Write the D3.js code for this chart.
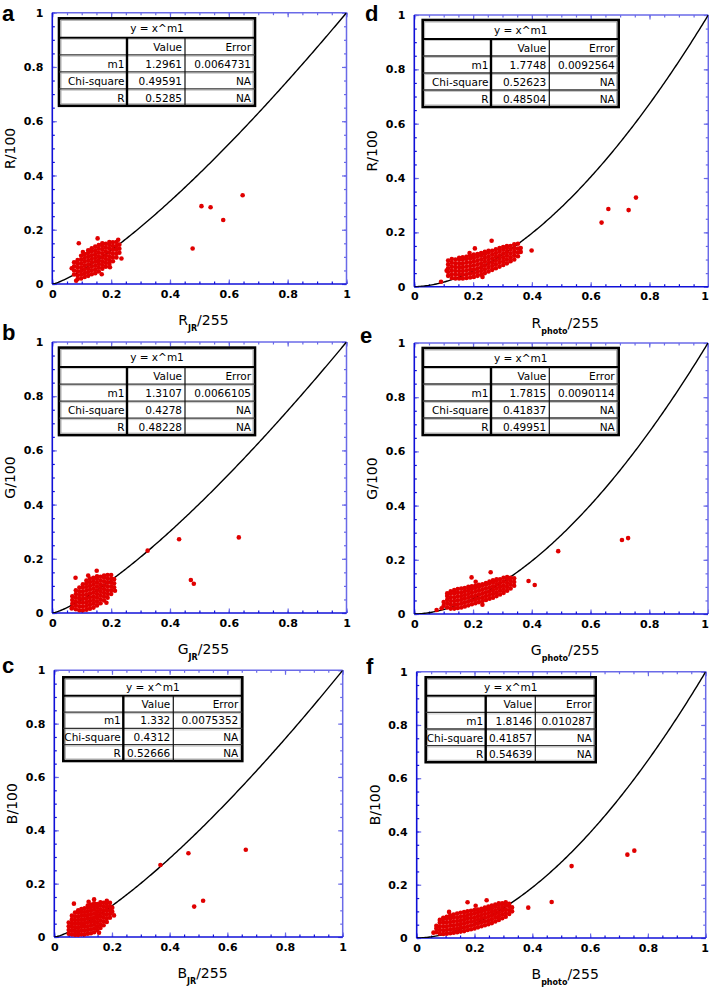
<!DOCTYPE html>
<html><head><meta charset="utf-8">
<script src="https://cdn.jsdelivr.net/npm/d3@7"></script>
<style>body{margin:0;background:#fff}svg{display:block}</style>
</head><body>
<svg id="chart" width="709" height="989"></svg>
<script>
// ---------------- data ----------------
const panelIds = ["a","b","c","d","e","f"];
const yTitles = ["R/100","G/100","B/100","R/100","G/100","B/100"];
const xMain = ["R","G","B","R","G","B"];
const xSub = ["JR","JR","JR","photo","photo","photo"];
const tickValues = [0,0.2,0.4,0.6,0.8,1];
const tickLabels = ["0","0.2","0.4","0.6","0.8","1"];
const fitTitle = "y = x^m1";
const tableHeader = ["","Value","Error"];
const rowLabels = ["m1","Chi-square","R"];
const m1 = [1.2961,1.3107,1.332,1.7748,1.7815,1.8146];
const valueText = [
  ["1.2961","0.49591","0.5285"],
  ["1.3107","0.4278","0.48228"],
  ["1.332","0.4312","0.52666"],
  ["1.7748","0.52623","0.48504"],
  ["1.7815","0.41837","0.49951"],
  ["1.8146","0.41857","0.54639"]
];
const errorText = [
  ["0.0064731","NA","NA"],
  ["0.0066105","NA","NA"],
  ["0.0075352","NA","NA"],
  ["0.0092564","NA","NA"],
  ["0.0090114","NA","NA"],
  ["0.010287","NA","NA"]
];
// dense clusters: [x, [y values]]
const clusterA = [
  [0.074,[0.035,0.05,0.065,0.08]],
  [0.086,[0.018,0.032,0.046,0.06,0.074,0.088]],
  [0.098,[0.02,0.034,0.048,0.062,0.076,0.09,0.104]],
  [0.110,[0.026,0.04,0.054,0.068,0.082,0.096,0.11]],
  [0.122,[0.03,0.044,0.058,0.072,0.086,0.1,0.114,0.124]],
  [0.134,[0.036,0.05,0.064,0.078,0.092,0.106,0.12,0.132]],
  [0.146,[0.04,0.054,0.068,0.082,0.096,0.11,0.124,0.138]],
  [0.158,[0.046,0.06,0.074,0.088,0.102,0.116,0.13,0.144]],
  [0.170,[0.056,0.07,0.084,0.098,0.112,0.126,0.14,0.15]],
  [0.182,[0.064,0.078,0.092,0.106,0.12,0.134,0.148]],
  [0.194,[0.074,0.088,0.102,0.116,0.13,0.144,0.155]],
  [0.206,[0.084,0.098,0.112,0.126,0.14,0.154]],
  [0.218,[0.098,0.112,0.126,0.14,0.155]],
  [0.228,[0.115,0.13,0.145]]
];
const pointsA = [[0.09,0.15],[0.154,0.168],[0.235,0.094],[0.168,0.036],[0.224,0.163],
  [0.081,0.012],[0.104,0.118],[0.196,0.062],[0.066,0.058],
  [0.477,0.131],[0.507,0.287],[0.538,0.283],[0.581,0.236],[0.647,0.327]];
const clusterB = [
  [0.068,[0.02,0.034,0.048,0.062]],
  [0.080,[0.014,0.028,0.042,0.056,0.07,0.084]],
  [0.092,[0.01,0.024,0.038,0.052,0.066,0.08,0.094]],
  [0.104,[0.01,0.024,0.038,0.052,0.066,0.08,0.094,0.106]],
  [0.116,[0.012,0.026,0.04,0.054,0.068,0.082,0.096,0.11,0.12]],
  [0.128,[0.016,0.03,0.044,0.058,0.072,0.086,0.1,0.114,0.127]],
  [0.140,[0.02,0.034,0.048,0.062,0.076,0.09,0.104,0.118,0.13]],
  [0.152,[0.028,0.042,0.056,0.07,0.084,0.098,0.112,0.126,0.135]],
  [0.164,[0.036,0.05,0.064,0.078,0.092,0.106,0.12,0.134]],
  [0.176,[0.046,0.06,0.074,0.088,0.102,0.116,0.13,0.138]],
  [0.188,[0.056,0.07,0.084,0.098,0.112,0.126,0.14]],
  [0.200,[0.07,0.084,0.098,0.112,0.126,0.14]],
  [0.210,[0.095,0.11,0.125]]
];
const pointsB = [[0.079,0.13],[0.151,0.156],[0.213,0.082],[0.066,0.017],[0.122,0.138],[0.184,0.038],
  [0.324,0.23],[0.431,0.272],[0.471,0.122],[0.481,0.108],[0.634,0.279]];
const clusterC = [
  [0.050,[0.012,0.026,0.04,0.054]],
  [0.061,[0.01,0.024,0.038,0.052,0.066,0.08]],
  [0.072,[0.008,0.022,0.036,0.05,0.064,0.078,0.092]],
  [0.083,[0.008,0.022,0.036,0.05,0.064,0.078,0.092,0.1]],
  [0.094,[0.01,0.024,0.038,0.052,0.066,0.08,0.094,0.105]],
  [0.105,[0.01,0.024,0.038,0.052,0.066,0.08,0.094,0.108]],
  [0.116,[0.012,0.026,0.04,0.054,0.068,0.082,0.096,0.11,0.118]],
  [0.127,[0.014,0.028,0.042,0.056,0.07,0.084,0.098,0.112,0.122]],
  [0.138,[0.018,0.032,0.046,0.06,0.074,0.088,0.102,0.116,0.126]],
  [0.149,[0.026,0.04,0.054,0.068,0.082,0.096,0.11,0.124]],
  [0.160,[0.034,0.048,0.062,0.076,0.09,0.104,0.118,0.13]],
  [0.171,[0.044,0.058,0.072,0.086,0.1,0.114,0.128]],
  [0.182,[0.056,0.07,0.084,0.098,0.112,0.126,0.136]],
  [0.193,[0.072,0.086,0.1,0.114,0.128]],
  [0.201,[0.095,0.11]]
];
const pointsC = [[0.068,0.125],[0.138,0.141],[0.207,0.081],[0.119,0.132],[0.155,0.016],
  [0.368,0.27],[0.465,0.314],[0.485,0.114],[0.516,0.136],[0.664,0.327]];
const clusterD = [
  [0.115,[0.04,0.054,0.068,0.082,0.096]],
  [0.1275,[0.032,0.046,0.06,0.074,0.088,0.102]],
  [0.140,[0.03,0.044,0.058,0.072,0.086,0.1]],
  [0.1525,[0.03,0.044,0.058,0.072,0.086,0.1,0.106]],
  [0.165,[0.03,0.044,0.058,0.072,0.086,0.1,0.108]],
  [0.1775,[0.032,0.046,0.06,0.074,0.088,0.102,0.11]],
  [0.190,[0.034,0.048,0.062,0.076,0.09,0.104,0.114]],
  [0.2025,[0.036,0.05,0.064,0.078,0.092,0.106,0.118]],
  [0.215,[0.04,0.054,0.068,0.082,0.096,0.11,0.12]],
  [0.2275,[0.044,0.058,0.072,0.086,0.1,0.114,0.124]],
  [0.240,[0.05,0.064,0.078,0.092,0.106,0.12,0.128]],
  [0.2525,[0.056,0.07,0.084,0.098,0.112,0.126,0.132]],
  [0.265,[0.062,0.076,0.09,0.104,0.118,0.132]],
  [0.2775,[0.068,0.082,0.096,0.11,0.124,0.138]],
  [0.290,[0.074,0.088,0.102,0.116,0.13,0.142]],
  [0.3025,[0.08,0.094,0.108,0.122,0.136,0.146]],
  [0.315,[0.086,0.1,0.114,0.128,0.142,0.15]],
  [0.3275,[0.094,0.108,0.122,0.136,0.15]],
  [0.340,[0.1,0.114,0.128,0.142,0.156]],
  [0.3525,[0.112,0.126,0.14,0.158]],
  [0.362,[0.128,0.142]]
];
const pointsD = [[0.091,0.018],[0.11,0.059],[0.206,0.141],[0.263,0.169],[0.232,0.036],[0.188,0.124],
  [0.399,0.133],[0.637,0.236],[0.66,0.286],[0.729,0.282],[0.754,0.328]];
const clusterE = [
  [0.100,[0.03,0.044]],
  [0.112,[0.024,0.038,0.052,0.066,0.076]],
  [0.124,[0.02,0.034,0.048,0.062,0.076,0.084]],
  [0.136,[0.02,0.034,0.048,0.062,0.076,0.088]],
  [0.148,[0.022,0.036,0.05,0.064,0.078,0.092]],
  [0.160,[0.024,0.038,0.052,0.066,0.08,0.094]],
  [0.172,[0.028,0.042,0.056,0.07,0.084,0.096]],
  [0.184,[0.032,0.046,0.06,0.074,0.088,0.1]],
  [0.196,[0.036,0.05,0.064,0.078,0.092,0.102]],
  [0.208,[0.04,0.054,0.068,0.082,0.096,0.104]],
  [0.220,[0.044,0.058,0.072,0.086,0.1,0.108]],
  [0.232,[0.048,0.062,0.076,0.09,0.104,0.11]],
  [0.244,[0.052,0.066,0.08,0.094,0.108,0.114]],
  [0.256,[0.056,0.07,0.084,0.098,0.112,0.12]],
  [0.268,[0.06,0.074,0.088,0.102,0.116,0.124]],
  [0.280,[0.066,0.08,0.094,0.108,0.122,0.128]],
  [0.292,[0.072,0.086,0.1,0.114,0.128]],
  [0.304,[0.078,0.092,0.106,0.12,0.134]],
  [0.316,[0.086,0.1,0.114,0.128,0.136]],
  [0.328,[0.094,0.108,0.122,0.134]],
  [0.340,[0.104,0.118,0.132]]
];
const pointsE = [[0.076,0.015],[0.093,0.021],[0.195,0.135],[0.26,0.154],[0.209,0.119],[0.232,0.034],
  [0.389,0.122],[0.41,0.107],[0.49,0.232],[0.707,0.273],[0.728,0.28]];
const clusterF = [
  [0.068,[0.022,0.036,0.046]],
  [0.080,[0.016,0.03,0.044,0.058,0.068]],
  [0.092,[0.015,0.029,0.043,0.057,0.071,0.076]],
  [0.104,[0.016,0.03,0.044,0.058,0.072,0.08]],
  [0.116,[0.018,0.032,0.046,0.06,0.074,0.085]],
  [0.128,[0.02,0.034,0.048,0.062,0.076,0.088]],
  [0.140,[0.022,0.036,0.05,0.064,0.078,0.092]],
  [0.152,[0.024,0.038,0.052,0.066,0.08,0.095]],
  [0.164,[0.026,0.04,0.054,0.068,0.082,0.097]],
  [0.176,[0.03,0.044,0.058,0.072,0.086,0.1]],
  [0.188,[0.033,0.047,0.061,0.075,0.089,0.102]],
  [0.200,[0.036,0.05,0.064,0.078,0.092,0.105]],
  [0.212,[0.04,0.054,0.068,0.082,0.096,0.107]],
  [0.224,[0.044,0.058,0.072,0.086,0.1,0.11]],
  [0.236,[0.048,0.062,0.076,0.09,0.104,0.114]],
  [0.248,[0.052,0.066,0.08,0.094,0.108,0.118]],
  [0.260,[0.056,0.07,0.084,0.098,0.112,0.122]],
  [0.272,[0.062,0.076,0.09,0.104,0.118,0.126]],
  [0.284,[0.068,0.082,0.096,0.11,0.124,0.13]],
  [0.296,[0.074,0.088,0.102,0.116,0.13]],
  [0.308,[0.08,0.094,0.108,0.122,0.134]],
  [0.320,[0.09,0.104,0.118,0.128]],
  [0.330,[0.1,0.115]]
];
const pointsF = [[0.058,0.02],[0.176,0.134],[0.242,0.142],[0.204,0.121],[0.112,0.098],
  [0.386,0.114],[0.467,0.135],[0.536,0.27],[0.729,0.313],[0.753,0.328]];
const clusters = [clusterA,clusterB,clusterC,clusterD,clusterE,clusterF];
const extraPoints = [pointsA,pointsB,pointsC,pointsD,pointsE,pointsF];

// ---------------- layout ----------------
const layout = [
  {l:52.3,r:346.5,t:12.7,b:284, lx:2,ly:21,  tab:{x:6.7,y:5.6,w:196,h1:19.5,rh:17,c1:68,c2:126}},
  {l:52.3,r:346.5,t:342,b:613,  lx:2,ly:340, tab:{x:6.7,y:5.6,w:196,h1:19.5,rh:17,c1:68,c2:126}},
  {l:54.3,r:342.7,t:670.3,b:937,lx:2,ly:673, tab:{x:9,y:7,w:179,h1:18.5,rh:16.3,c1:60,c2:110}},
  {l:414.3,r:708.3,t:15,b:286.7,lx:365,ly:21,  tab:{x:8.4,y:5,w:196,h1:19,rh:17,c1:68.3,c2:126.6}},
  {l:414.3,r:708,t:343,b:614,   lx:360,ly:343, tab:{x:8.4,y:5,w:196,h1:19,rh:17,c1:68.3,c2:126.6}},
  {l:416.7,r:705.7,t:671.7,b:938,lx:366,ly:674,tab:{x:9,y:5.6,w:170,h1:18.5,rh:16.6,c1:60,c2:109.6}}
];
const FONT = "DejaVu Sans, Verdana, sans-serif";
const darkBlue = "#1010d8", lightBlue = "#6a6ae8", dotColor = "#e00000";
const PAGE_W = 709;

const svg = d3.select("#chart");
const minorTicks = d3.range(0, 1.0001, 0.05);

panelIds.forEach((id, i) => {
  const L = layout[i];
  const x = d3.scaleLinear().domain([0,1]).range([L.l, L.r]);
  const y = d3.scaleLinear().domain([0,1]).range([L.b, L.t]);
  const g = svg.append("g");

  const clipId = "clip" + id;
  svg.append("clipPath").attr("id", clipId).append("rect")
    .attr("x", L.l).attr("y", L.t).attr("width", L.r - L.l).attr("height", L.b - L.t);

  g.append("line").attr("x1",L.l).attr("x2",L.r).attr("y1",L.t).attr("y2",L.t)
    .attr("stroke",lightBlue).attr("stroke-width",1.5);
  g.append("line").attr("x1",L.r).attr("x2",L.r).attr("y1",L.t).attr("y2",L.b)
    .attr("stroke",lightBlue).attr("stroke-width",1.5);

  const mk = (axis, tr, col) => {
    const a = g.append("g").attr("transform", tr).call(axis);
    a.select(".domain").remove();
    a.selectAll(".tick line").attr("stroke", col).attr("stroke-width", 1.2);
    return a;
  };
  mk(d3.axisBottom(x).tickValues(minorTicks).tickSize(-2.5).tickFormat(""), `translate(0,${L.b})`, darkBlue);
  mk(d3.axisTop(x).tickValues(minorTicks).tickSize(-2.5).tickFormat(""), `translate(0,${L.t})`, lightBlue);
  mk(d3.axisLeft(y).tickValues(minorTicks).tickSize(-2.5).tickFormat(""), `translate(${L.l},0)`, darkBlue);
  mk(d3.axisRight(y).tickValues(minorTicks).tickSize(-2.5).tickFormat(""), `translate(${L.r},0)`, lightBlue);
  mk(d3.axisTop(x).tickValues(tickValues).tickSize(-4.5).tickFormat(""), `translate(0,${L.t})`, lightBlue);
  mk(d3.axisRight(y).tickValues(tickValues).tickSize(-4.5).tickFormat(""), `translate(${L.r},0)`, lightBlue);

  const xa = mk(d3.axisBottom(x).tickValues(tickValues).tickSize(-4.5).tickPadding(6)
      .tickFormat((d,k)=>tickLabels[k]), `translate(0,${L.b})`, lightBlue);
  const ya = mk(d3.axisLeft(y).tickValues(tickValues).tickSize(-4.5).tickPadding(9)
      .tickFormat((d,k)=>tickLabels[k]), `translate(${L.l},0)`, lightBlue);
  [xa, ya].forEach(a => a.selectAll(".tick text")
      .attr("fill","#000").style("font-family",FONT).style("font-size","11px").style("font-weight","bold"));
  xa.selectAll(".tick text").each(function(d) {
    if (x(d) + 4 > PAGE_W) d3.select(this).attr("text-anchor","end").attr("x", PAGE_W - x(d) - 0.5);
  });

  g.append("line").attr("x1",L.l).attr("x2",L.r).attr("y1",L.b).attr("y2",L.b)
    .attr("stroke",darkBlue).attr("stroke-width",1.6);
  g.append("line").attr("x1",L.l).attr("x2",L.l).attr("y1",L.t).attr("y2",L.b)
    .attr("stroke",darkBlue).attr("stroke-width",1.6);

  // fitted curve y = x^m1
  const curve = d3.range(0, 1.0001, 0.005).map(v => [v, Math.pow(v, m1[i])]);
  g.append("path").datum(curve).attr("clip-path", `url(#${clipId})`)
    .attr("fill","none").attr("stroke","#000").attr("stroke-width",1.4)
    .attr("d", d3.line().x(d => x(d[0])).y(d => y(d[1])));

  // scatter points
  const pts = clusters[i].flatMap(([cx, ys]) => ys.map(cy => [cx, cy])).concat(extraPoints[i]);
  g.append("g").selectAll("circle").data(pts).join("circle")
    .attr("cx", d => x(d[0])).attr("cy", d => y(d[1])).attr("r", 2.3).attr("fill", dotColor);

  // table
  const T = L.tab;
  const tx = L.l + T.x, ty = L.t + T.y, th = T.h1 + 4 * T.rh;
  const tg = g.append("g");
  tg.append("rect").attr("x",tx).attr("y",ty).attr("width",T.w).attr("height",th)
    .attr("fill","#fff").attr("stroke","#000").attr("stroke-width",2.6);
  tg.append("rect").attr("x",tx+2).attr("y",ty+2).attr("width",T.w-4).attr("height",th-4)
    .attr("fill","none").attr("stroke","#9a9a9a").attr("stroke-width",0.8);
  for (let k = 0; k < 4; k++) {
    const yy = ty + T.h1 + k * T.rh;
    tg.append("line").attr("x1",tx).attr("x2",tx+T.w).attr("y1",yy).attr("y2",yy)
      .attr("stroke", k === 0 ? "#000" : "#333").attr("stroke-width", k === 0 ? 2 : 1.3);
    tg.append("line").attr("x1",tx+2).attr("x2",tx+T.w-2).attr("y1",yy+1.5).attr("y2",yy+1.5)
      .attr("stroke","#b0b0b0").attr("stroke-width",0.7);
  }
  tg.append("line").attr("x1",tx+T.c1).attr("x2",tx+T.c1).attr("y1",ty+T.h1).attr("y2",ty+th)
    .attr("stroke","#000").attr("stroke-width",2.4);
  tg.append("line").attr("x1",tx+T.c2).attr("x2",tx+T.c2).attr("y1",ty+T.h1).attr("y2",ty+th)
    .attr("stroke","#111").attr("stroke-width",1.2);
  const txt = (s, xx, yy, anchor) => tg.append("text").attr("x",xx).attr("y",yy)
    .attr("text-anchor",anchor).style("font-family",FONT).style("font-size","10.5px")
    .attr("fill","#000").text(s);
  txt(fitTitle, tx + T.w/2, ty + T.h1/2 + 4, "middle");
  const rowY = k => ty + T.h1 + k * T.rh + T.rh/2 + 4.2;
  txt(tableHeader[1], tx + T.c2 - 3, rowY(0), "end");
  txt(tableHeader[2], tx + T.w - 4, rowY(0), "end");
  rowLabels.forEach((lab, k) => {
    txt(lab, tx + T.c1 - 2.5, rowY(k+1), "end");
    txt(valueText[i][k], tx + T.c2 - 3, rowY(k+1), "end");
    txt(errorText[i][k], tx + T.w - 4, rowY(k+1), "end");
  });

  // axis titles
  g.append("text").attr("transform", `translate(${L.l - 37},${(L.t + L.b)/2}) rotate(-90)`)
    .attr("text-anchor","middle").style("font-family",FONT).style("font-size","14px").text(yTitles[i]);
  const xt = g.append("text").attr("x",(L.l + L.r)/2 + 4).attr("y", L.b + 41)
    .attr("text-anchor","middle").style("font-family",FONT).style("font-size","14px");
  xt.append("tspan").text(xMain[i]);
  xt.append("tspan").attr("dy",6).style("font-size","8px").style("font-weight","bold").text(xSub[i]);
  xt.append("tspan").attr("dy",-6).text("/255");

  // panel letter
  g.append("text").attr("x", L.lx).attr("y", L.ly)
    .style("font-family","Liberation Sans, Arial, sans-serif").style("font-size","22px")
    .style("font-weight","bold").text(id);
});
</script>
</body></html>
